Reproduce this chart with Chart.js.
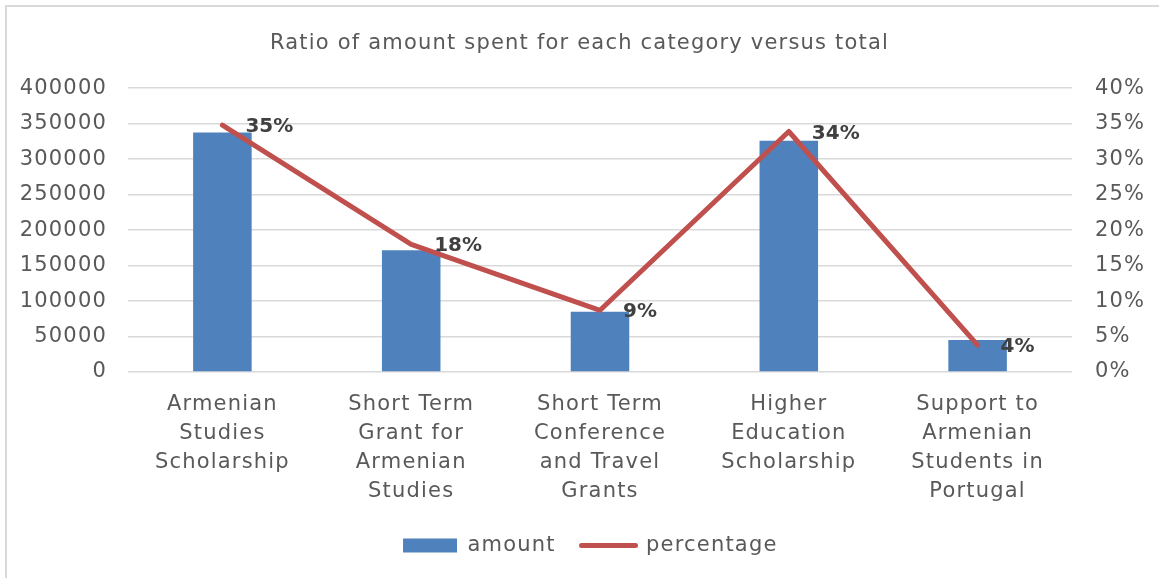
<!DOCTYPE html>
<html>
<head>
<meta charset="utf-8">
<script src="https://cdn.jsdelivr.net/npm/chart.js@4/dist/chart.umd.min.js"></script>
<style>
  html, body { margin: 0; padding: 0; background: #fff; overflow: hidden; }
  #frame {
    position: absolute; left: 5px; top: 5px; width: 1250px; height: 650px;
    border: 2px solid #d9d9d9; box-sizing: border-box;
  }
  #wrap { position: absolute; left: 0; top: 0; width: 1159px; height: 578px; }
</style>
</head>
<body>
<div id="frame"></div>
<div id="wrap"><canvas id="chart" width="1159" height="578"></canvas></div>
<script>
  const CATEGORIES = [
    ['Armenian', 'Studies', 'Scholarship'],
    ['Short Term', 'Grant for', 'Armenian', 'Studies'],
    ['Short Term', 'Conference', 'and Travel', 'Grants'],
    ['Higher', 'Education', 'Scholarship'],
    ['Support to', 'Armenian', 'Students in', 'Portugal']
  ];
  const AMOUNT = [337600, 171500, 84800, 325900, 45200];
  const PERCENTAGE = [0.348, 0.18, 0.087, 0.339, 0.038];

  const FONT = "'DejaVu Sans', sans-serif";
  const GREY = '#595959';

  // wider letters so DejaVu comes closer to the original's wide font
  const spacing = {
    id: 'spacing',
    beforeInit(chart) { chart.ctx.letterSpacing = '1.2px'; },
    beforeDraw(chart) { chart.ctx.letterSpacing = '1.2px'; }
  };

  // labels to the right of each line point, like Excel's "Right" position
  const pointLabels = {
    id: 'pointLabels',
    afterDatasetsDraw(chart) {
      const meta = chart.getDatasetMeta(1);
      const ctx = chart.ctx;
      ctx.save();
      ctx.letterSpacing = '0px';
      ctx.font = 'bold 20px ' + FONT;
      ctx.fillStyle = '#404040';
      ctx.textAlign = 'left';
      ctx.textBaseline = 'middle';
      meta.data.forEach((pt, i) => {
        ctx.fillText(Math.round(PERCENTAGE[i] * 100) + '%', pt.x + 23, pt.y + 2);
      });
      ctx.restore();
    }
  };

  new Chart(document.getElementById('chart'), {
    type: 'bar',
    data: {
      labels: CATEGORIES,
      datasets: [{
        label: 'amount',
        data: AMOUNT,
        backgroundColor: '#4f81bd',
        borderWidth: 0,
        categoryPercentage: 1,
        barPercentage: 0.31,
        yAxisID: 'y',
        order: 2
      }, {
        type: 'line',
        label: 'percentage',
        data: PERCENTAGE,
        borderColor: '#c0504d',
        backgroundColor: '#c0504d',
        borderWidth: 5,
        borderCapStyle: 'round',
        borderJoinStyle: 'round',
        pointRadius: 0,
        tension: 0,
        yAxisID: 'y1',
        order: 1
      }]
    },
    options: {
      responsive: false,
      animation: false,
      layout: { padding: { left: 0, right: 0, top: 0, bottom: 12 } },
      plugins: {
        title: {
          display: true,
          text: 'Ratio of amount spent for each category versus total',
          color: GREY,
          font: { family: FONT, size: 21, weight: 'normal' },
          padding: { top: 31, bottom: 32 }
        },
        legend: {
          position: 'bottom',
          labels: {
            color: GREY,
            font: { family: FONT, size: 21 },
            usePointStyle: true,
            pointStyleWidth: 54,
            boxHeight: 14,
            padding: 10,
            generateLabels(chart) {
              return chart.data.datasets.map((ds, i) => ({
                text: i === 0 ? ds.label + '  ' : ds.label,
                fillStyle: ds.backgroundColor,
                strokeStyle: ds.type === 'line' ? ds.borderColor : ds.backgroundColor,
                lineWidth: ds.type === 'line' ? 5 : 0,
                lineCap: 'round',
                pointStyle: ds.type === 'line' ? 'line' : 'rect',
                fontColor: GREY,
                hidden: false,
                datasetIndex: i
              }));
            }
          }
        },
        tooltip: { enabled: false }
      },
      scales: {
        x: {
          grid: { display: false },
          border: { display: false },
          ticks: {
            color: GREY,
            font: { family: FONT, size: 21, lineHeight: 1.38 },
            padding: 10,
            maxRotation: 0,
            autoSkip: false
          },
          afterFit(scale) { scale.height = 153; }
        },
        y: {
          position: 'left',
          min: 0,
          max: 400000,
          grid: { color: '#d9d9d9', lineWidth: 1.5, drawTicks: false },
          border: { display: false },
          ticks: {
            stepSize: 50000,
            color: GREY,
            font: { family: FONT, size: 21 },
            padding: 21,
            callback: (v) => String(v)
          },
          afterFit(scale) { scale.width = 128; }
        },
        y1: {
          position: 'right',
          min: 0,
          max: 0.4,
          grid: { display: false, drawTicks: false },
          border: { display: false },
          ticks: {
            stepSize: 0.05,
            color: GREY,
            font: { family: FONT, size: 21 },
            padding: 23,
            callback: (v) => Math.round(v * 100) + '%'
          },
          afterFit(scale) { scale.width = 87; }
        }
      }
    },
    plugins: [spacing, pointLabels]
  });
</script>
</body>
</html>
